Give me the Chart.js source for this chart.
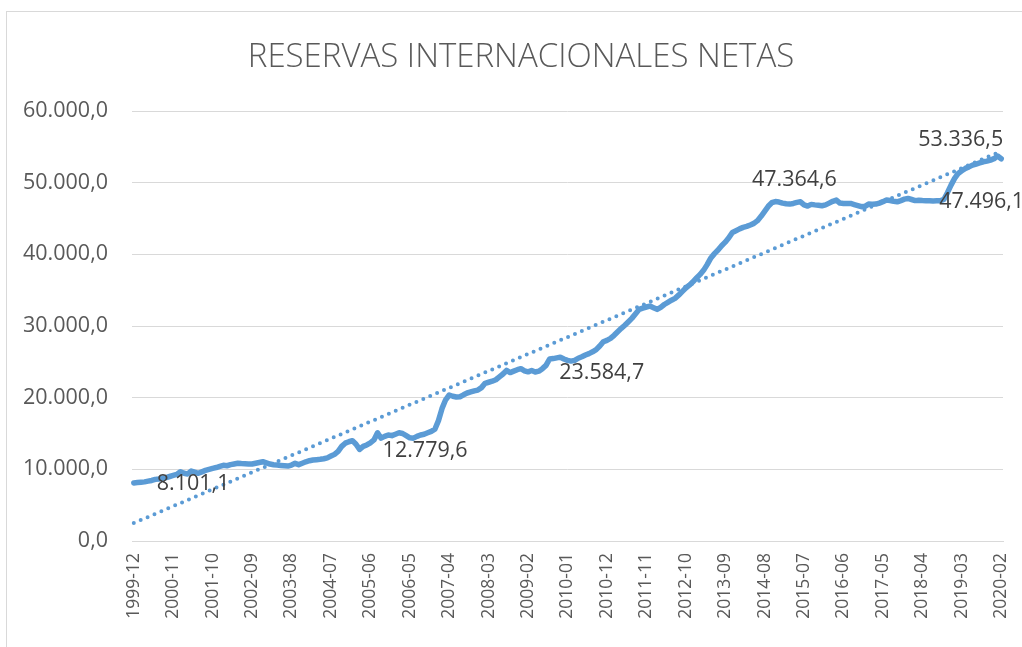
<!DOCTYPE html>
<html>
<head>
<meta charset="utf-8">
<script src="https://cdn.jsdelivr.net/npm/chart.js@4"></script>
<style>
  html, body { margin: 0; padding: 0; background: #fff; }
  canvas { display: block; }
</style>
</head>
<body>
<canvas id="reservasChart" width="1022" height="647"></canvas>
<script>
// serie mensual, desde 1999-12 hasta 2020-02
var startYear = 1999;
var startMonth = 12;

var reservas = [
    8101.1,
    // 2000
    8150, 8200, 8250, 8350, 8450, 8600, 8650, 8750, 8850, 9000, 9150, 9300,
    // 2001
    9670, 9450, 9350, 9770, 9600, 9450, 9650, 9850, 10000, 10140, 10250, 10400,
    // 2002
    10560, 10500, 10650, 10750, 10840, 10800, 10780, 10760, 10740, 10850, 10950, 11060,
    // 2003
    10900, 10740, 10650, 10600, 10550, 10500, 10460, 10600, 10840, 10650, 10850, 11050,
    // 2004
    11200, 11300, 11350, 11400, 11480, 11600, 11850, 12090, 12500, 13200, 13650, 13850,
    // 2005
    14000, 13500, 12779.6, 13200, 13400, 13700, 14100, 15100, 14350, 14600, 14800, 14700,
    // 2006
    14900, 15100, 15000, 14700, 14400, 14350, 14600, 14800, 14900, 15100, 15300, 15600,
    // 2007
    16800, 18500, 19700, 20370, 20200, 20100, 20130, 20400, 20650, 20800, 20950, 21060,
    // 2008
    21400, 22000, 22150, 22300, 22500, 22900, 23300, 23800, 23500, 23700, 23900, 24050,
    // 2009
    23750, 23600, 23800, 23584.7, 23700, 24050, 24500, 25400, 25450, 25550, 25650, 25400,
    // 2010
    25200, 25100, 25200, 25500, 25700, 25950, 26150, 26400, 26700, 27200, 27800, 28000,
    // 2011
    28270, 28700, 29200, 29670, 30100, 30590, 31100, 31700, 32320, 32500, 32650, 32780,
    // 2012
    32550, 32320, 32600, 33000, 33300, 33600, 33860, 34300, 34800, 35300, 35700, 36170,
    // 2013
    36700, 37200, 37800, 38600, 39500, 40100, 40600, 41200, 41700, 42300, 43060, 43300,
    // 2014
    43550, 43760, 43900, 44100, 44320, 44700, 45300, 46000, 46700, 47200, 47364.6, 47300,
    // 2015
    47150, 47050, 47010, 47100, 47250, 47330, 46900, 46730, 46970, 46900, 46850, 46780,
    // 2016
    46900, 47150, 47400, 47570, 47150, 47100, 47100, 47100, 46950, 46800, 46650, 46700,
    // 2017
    47010, 47000, 47010, 47150, 47350, 47570, 47500, 47400, 47330, 47500, 47700, 47800,
    // 2018
    47650, 47496.1, 47550, 47500, 47470, 47470, 47450, 47460, 47470, 47660, 48600, 49660,
    // 2019
    50600, 51290, 51650, 51990, 52200, 52450, 52600, 52750, 52910, 53000, 53150, 53350,
    // 2020
    53710, 53336.5
];

// puntos con etiqueta de dato
var etiquetas = [0, 63, 112, 179, 218, 242];
var yTicks = [0, 10000, 20000, 30000, 40000, 50000, 60000];
var pasoEtiquetasX = 11;
var titulo = 'RESERVAS INTERNACIONALES NETAS';

var meses = [];
for (var i = 0; i < reservas.length; i++) {
    var m = startMonth - 1 + i;
    var y = startYear + Math.floor(m / 12);
    var mm = (m % 12) + 1;
    meses.push(y + '-' + (mm < 10 ? '0' + mm : mm));
}

// linea de tendencia lineal (minimos cuadrados, como Excel)
var n = reservas.length, sx = 0, sy = 0, sxy = 0, sxx = 0;
for (var k = 0; k < n; k++) {
    sx += k; sy += reservas[k]; sxy += k * reservas[k]; sxx += k * k;
}
var pendiente = (n * sxy - sx * sy) / (n * sxx - sx * sx);
var intercepto = (sy - pendiente * sx) / n;
var tendencia = reservas.map(function(v, k) { return intercepto + pendiente * k; });

function formato(v) {
    var partes = v.toFixed(1).split('.');
    var entero = partes[0].replace(/\B(?=(\d{3})+(?!\d))/g, '.');
    return entero + ',' + partes[1];
}

var grisTexto = '#595959';
var fuente = '"Open Sans", "Noto Sans", sans-serif';

// posicion de cada etiqueta respecto a su punto
var estiloEtiquetas = {
    0:   { align: 'left',   dx: 23, dy: 1 },
    63:  { align: 'left',   dx: 23, dy: 1 },
    112: { align: 'left',   dx: 24, dy: 1 },
    179: { align: 'center', dx: 19, dy: -22 },
    218: { align: 'left',   dx: 24, dy: 1 },
    242: { align: 'right',  dx: 2,  dy: -19 }
};

var marcoPlugin = {
    id: 'marco',
    beforeDraw: function(chart) {
        var c = chart.ctx;
        c.save();
        c.fillStyle = '#fff';
        c.fillRect(0, 0, chart.width, chart.height);
        c.strokeStyle = '#d9d9d9';
        c.lineWidth = 1;
        c.strokeRect(6.5, 11.5, chart.width + 20, chart.height + 20);
        // titulo centrado sobre el marco del grafico
        c.font = '300 33px ' + fuente;
        c.fillStyle = grisTexto;
        c.textAlign = 'center';
        c.textBaseline = 'middle';
        c.fillText(titulo, 521, 58);
        c.restore();
    }
};

var etiquetasPlugin = {
    id: 'etiquetasDatos',
    afterDatasetsDraw: function(chart) {
        var c = chart.ctx;
        var meta = chart.getDatasetMeta(0);
        c.save();
        c.font = '21.5px ' + fuente;
        c.fillStyle = '#404040';
        c.textBaseline = 'middle';
        etiquetas.forEach(function(idx) {
            var p = meta.data[idx];
            var e = estiloEtiquetas[idx];
            c.textAlign = e.align;
            c.fillText(formato(reservas[idx]), p.x + e.dx, p.y + e.dy);
        });
        c.restore();
    }
};

var ctx = document.getElementById('reservasChart').getContext('2d');
var reservasChart = new Chart(ctx, {
    type: 'line',
    data: {
        labels: meses,
        datasets: [{
                label: 'Reservas internacionales netas',
                data: reservas,
                borderColor: '#5b9bd5',
                borderWidth: 5.5,
                borderJoinStyle: 'round',
                borderCapStyle: 'round',
                pointRadius: 0,
                tension: 0,
                fill: false,
                order: 2
            },
            {
                label: 'Lineal',
                data: tendencia,
                borderColor: '#5b9bd5',
                borderWidth: 4,
                borderDash: [0, 7.5],
                borderCapStyle: 'round',
                pointRadius: 0,
                fill: false,
                order: 1
            }
        ]
    },
    options: {
        responsive: false,
        animation: false,
        layout: {
            padding: { top: 111, right: 19, left: 0, bottom: 0 }
        },
        plugins: {
            legend: { display: false },
            tooltip: { enabled: false },
            title: { display: false }
        },
        scales: {
            x: {
                offset: true,
                grid: { display: false, drawTicks: false },
                border: { display: true, color: '#d9d9d9', width: 1 },
                ticks: {
                    autoSkip: false,
                    maxRotation: 90,
                    minRotation: 90,
                    padding: 12,
                    color: grisTexto,
                    font: { family: fuente, size: 17.5 },
                    callback: function(val, idx) {
                        return idx % pasoEtiquetasX === 0 ? meses[idx] : null;
                    }
                },
                afterFit: function(scale) {
                    scale.height = 106;
                    // sin margen extra por la ultima etiqueta girada
                    scale.paddingLeft = 0;
                    scale.paddingRight = 0;
                }
            },
            y: {
                min: 0,
                max: 60000,
                afterBuildTicks: function(scale) {
                    scale.ticks = yTicks.map(function(v) { return { value: v }; });
                },
                grid: { color: '#d9d9d9', lineWidth: 1, drawTicks: false },
                border: { display: false },
                ticks: {
                    padding: 24,
                    color: grisTexto,
                    font: { family: fuente, size: 21.5 },
                    callback: function(v) { return formato(v); }
                },
                afterFit: function(scale) { scale.width = 132; }
            }
        }
    },
    plugins: [marcoPlugin, etiquetasPlugin]
});
</script>
</body>
</html>
